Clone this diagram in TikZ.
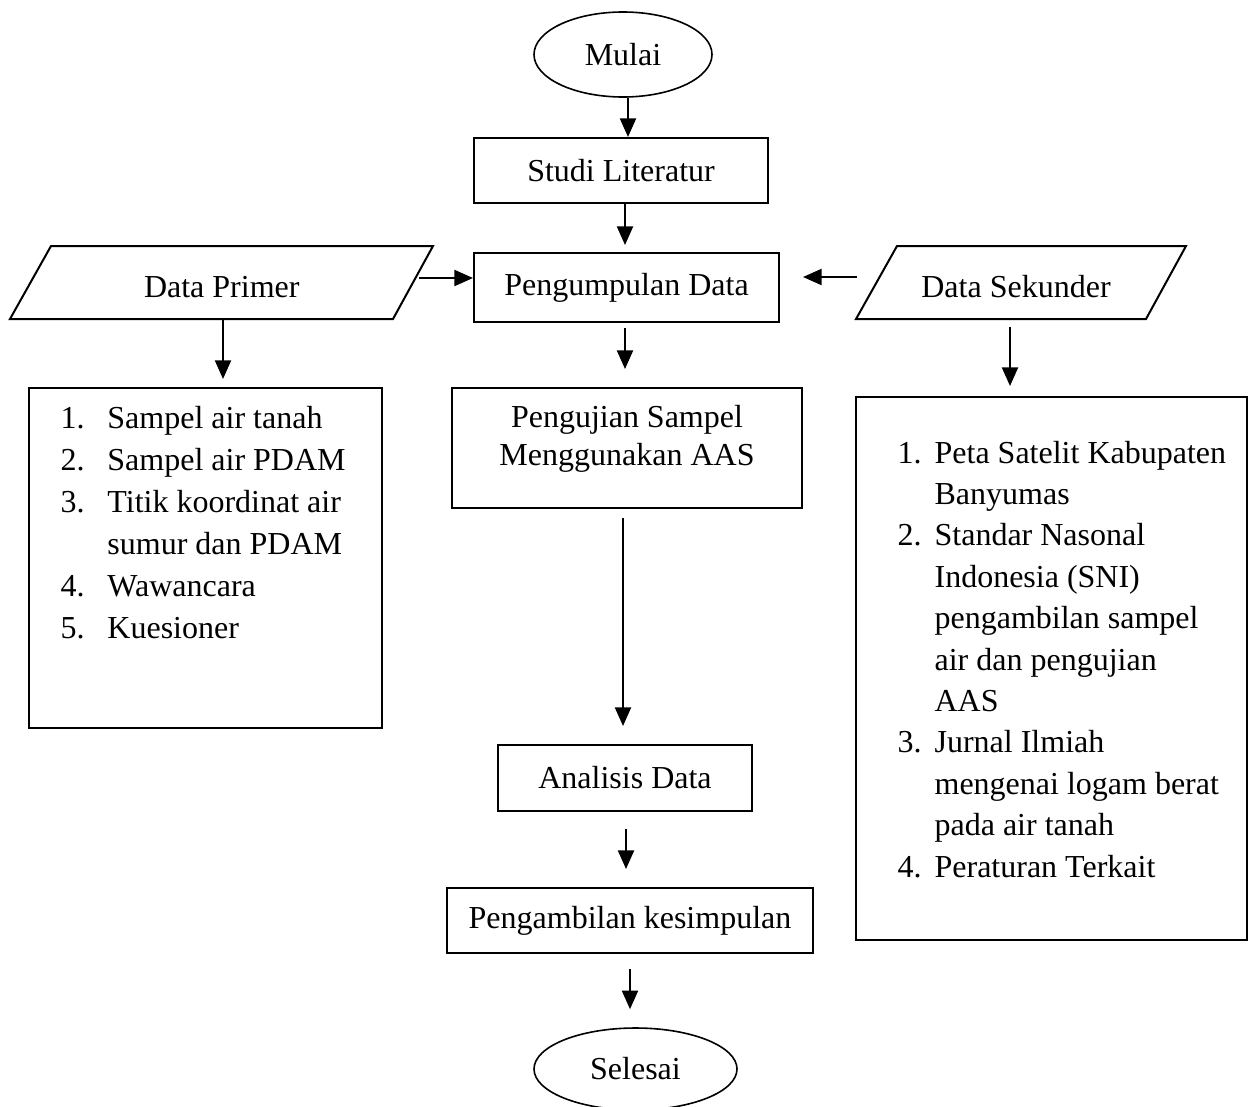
\documentclass[tikz,border=0pt]{standalone}
\usepackage{fontspec}
\setmainfont{Liberation Serif}
\usetikzlibrary{shapes.geometric,arrows.meta,calc}
\begin{document}
\begin{tikzpicture}[x=0.375pt,y=-0.375pt,
  every node/.style={font=\fontsize{12}{14.4}\selectfont},
  wh/.style 2 args={minimum width={#1*0.375pt},minimum height={#2*0.375pt}},
  box/.style={draw,line width=0.75pt,rectangle,inner sep=0pt},
  oval/.style={draw,line width=0.6pt,ellipse,inner sep=0pt},
  para/.style={draw,line width=0.75pt},
  txt/.style={inner sep=0pt},
  arr/.style={line width=0.85pt,-{Triangle[length=7pt,width=6pt]}},
  ]
\useasboundingbox (0,0) rectangle (1251,1106);

% main column
\node[oval,wh={178}{85}] (m) at (623,54.5) {Mulai};
\node[box,wh={294}{65}] (sl) at (621,170.5) {Studi Literatur};
\node[box,wh={305}{69}] (pd) at (626.5,287.5) {Pengumpulan Data};
\node[box,wh={350}{120}] (pj) at (627,448) {};
\node[txt,anchor=base,font=\fontsize{12}{14.6}\selectfont] (pjt) at (627,427)
  {\begin{tabular}[t]{@{}c@{}}Pengujian Sampel\\Menggunakan AAS\end{tabular}};
\node[box,wh={254}{66}] (ad) at (625,778) {Analisis Data};
\node[box,wh={366}{65}] (pk) at (630,920.5) {Pengambilan kesimpulan};
\node[oval,wh={203}{82}] (sel) at (635.5,1069) {Selesai};

% data primer
\draw[para] (51,246) -- (433,246) -- (393,319) -- (10,319) -- cycle;
\node[txt,anchor=base] (dp) at (221.75,297) {Data Primer};
\coordinate (dpo) at (419,278);
\coordinate (dpb) at (223,319);

% data sekunder
\draw[para] (897,246) -- (1186,246) -- (1146,319) -- (856,319) -- cycle;
\node[txt,anchor=base] (ds) at (1016,297) {Data Sekunder};
\coordinate (dso) at (857,277);
\coordinate (dsb) at (1010,327);

% list boxes
\node[box,wh={353}{340}] (lb) at (205.5,558) {};
\node[txt,anchor=base west,font=\fontsize{12}{15.8}\selectfont] (lt) at (60,428)
  {\begin{tabular}[t]{@{}p{17.6pt}@{}l@{}}
   1. & Sampel air tanah\\
   2. & Sampel air PDAM\\
   3. & Titik koordinat air\\
      & sumur dan PDAM\\
   4. & Wawancara\\
   5. & Kuesioner
   \end{tabular}};

\node[box,wh={391}{543}] (rb) at (1051.5,668.5) {};
\node[txt,anchor=base west,font=\fontsize{12}{15.53}\selectfont] (rt) at (897,463)
  {\begin{tabular}[t]{@{}p{13.9pt}@{}l@{}}
   1. & Peta Satelit Kabupaten\\
      & Banyumas\\
   2. & Standar Nasonal\\
      & Indonesia (SNI)\\
      & pengambilan sampel\\
      & air dan pengujian\\
      & AAS\\
   3. & Jurnal Ilmiah\\
      & mengenai logam berat\\
      & pada air tanah\\
   4. & Peraturan Terkait
   \end{tabular}};

% connectors
\draw[arr] ($(m.south)+(5,0)$) -- ($(sl.north)+(7,0)$);
\draw[arr] ($(sl.south)+(4,0)$) -- ($(pd.north)+(-1.5,-7)$);
\draw[arr] (dpo) -- (dpo -| pd.west);
\draw[arr] (dso) -- ($(dso -| pd.east)+(23,0)$);
\draw[arr] ($(pd.south)+(-1.5,5)$) -- ($(pj.north)+(-2,-18)$);
\draw[arr] (dpb) -- ($(dpb |- lb.north)+(0,-8)$);
\draw[arr] (dsb) -- ($(dsb |- rb.north)+(0,-10)$);
\draw[arr] ($(pj.south)+(-4,9)$) -- ($(ad.north)+(-2,-18)$);
\draw[arr] ($(ad.south)+(1,17)$) -- ($(pk.north)+(-4,-18)$);
\draw[arr] ($(pk.south)+(0,15)$) -- ($(sel.north)+(-5.5,-18)$);
\end{tikzpicture}
\end{document}
